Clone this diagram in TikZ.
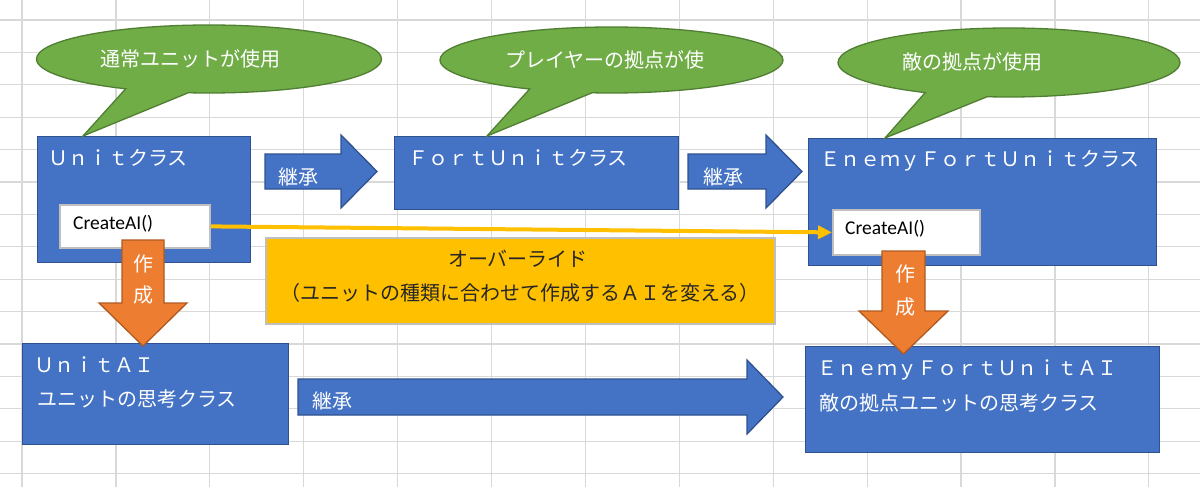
\documentclass[tikz,border=0pt]{standalone}
\usepackage{fontspec}
\setmainfont{Noto Sans CJK JP}
\newfontfamily\calib{Carlito}
\usetikzlibrary{shapes.callouts,shapes.geometric,arrows.meta}
\definecolor{xblue}{HTML}{4472C4}
\definecolor{xbluedk}{HTML}{2F528F}
\definecolor{xgreen}{HTML}{70AD47}
\definecolor{xgreendk}{HTML}{507E32}
\definecolor{xorange}{HTML}{ED7D31}
\definecolor{xorangedk}{HTML}{AE5A21}
\definecolor{xyellow}{HTML}{FFC000}
\definecolor{xgrid}{HTML}{D9D9D9}
\definecolor{xgray}{HTML}{BFBFBF}
\definecolor{xtext}{HTML}{262626}
\begin{document}
\begin{tikzpicture}[x=1pt,y=-1pt,
 gridline/.style={draw=xgrid,line width=1.2pt},
 bluebox/.style={rectangle,draw=xbluedk,fill=xblue,line width=1.3pt,anchor=north west,inner sep=0pt},
 whitebox/.style={rectangle,draw=xgray,fill=white,line width=1.8pt,anchor=north west,inner sep=0pt},
 ybox/.style={rectangle,draw=xgray,fill=xyellow,line width=1.5pt,anchor=north west,inner sep=0pt},
 bubble/.style={ellipse callout,draw=xgreendk,fill=xgreen,line width=1.3pt,callout pointer arc=22,inner sep=0pt},
 bluearrow/.style={draw=xbluedk,fill=xblue,line width=1.3pt,line join=miter},
 orangearrow/.style={draw=xorangedk,fill=xorange,line width=1.3pt},
 wtxt/.style={text=white,font=\fontsize{20}{24}\selectfont,inner sep=0pt,anchor=west},
 ktxt/.style={text=xtext,font=\fontsize{20}{24}\selectfont,inner sep=0pt},
 ctxt/.style={text=black,font=\calib\fontsize{19.5}{23}\selectfont,inner sep=0pt,anchor=west},
 yline/.style={draw=xyellow,line width=4pt,-{Triangle[length=14pt,width=13pt]}}
]
\useasboundingbox (0,0) rectangle (1200,487);
\fill[white] (0,0) rectangle (1200,487);
\foreach \i in {0,...,12} \draw[gridline] ({22+93.9*\i},0) -- ({22+93.9*\i},487);
\foreach \j in {0,...,14} \draw[gridline] (0,{20+32.4*\j}) -- (1200,{20+32.4*\j});

% class boxes
\node[bluebox,minimum width=213pt,minimum height=126pt] (unit) at (37,136) {};
\node[whitebox,minimum width=150pt,minimum height=43pt] (ca1) at (59,204) {};
\node[bluebox,minimum width=284pt,minimum height=73pt] (fort) at (394,136) {};
\node[bluebox,minimum width=348pt,minimum height=127pt] (efort) at (808,138) {};
\node[whitebox,minimum width=147pt,minimum height=45pt] (ca2) at (832,209) {};
\node[ybox,minimum width=509pt,minimum height=86pt] (ovr) at (265,237) {};
\node[bluebox,minimum width=266pt,minimum height=101pt] (uai) at (22,343) {};
\node[bluebox,minimum width=354pt,minimum height=106pt] (eai) at (805,346) {};

% callouts
\node[bubble,minimum width=345pt,minimum height=68pt,callout absolute pointer={(83,136)}] (b1) at (209,59) {};
\node[bubble,minimum width=343pt,minimum height=66pt,callout absolute pointer={(487,136)}] (b2) at (611.5,60) {};
\node[bubble,minimum width=342pt,minimum height=69pt,callout absolute pointer={(885,138)}] (b3) at (1009,62.5) {};
\node[wtxt] (t1) at (100,59) {通常ユニットが使用};
\node[wtxt] (t2) at (505,60) {プレイヤーの拠点が使};
\node[wtxt] (t3) at (902,62) {敵の拠点が使用};

% class texts
\node[wtxt] (tu) at (48,158) {Ｕｎｉｔクラス};
\node[wtxt] (tf) at (408,158) {ＦｏｒｔＵｎｉｔクラス};
\node[wtxt] (te) at (820,161) {ＥｎｅｍｙＦｏｒｔＵｎｉｔクラス};
\node[ctxt] (c1) at (73,224) {CreateAI()};
\node[ctxt] (c2) at (845,229) {CreateAI()};

% inheritance arrows
\draw[bluearrow] (265,154) -- (341,154) -- (341,135) -- (377,171.5) -- (341,208) -- (341,189) -- (265,189) -- cycle;
\node[wtxt] (k1) at (278,177) {継承};
\draw[bluearrow] (688,154) -- (766,154) -- (766,135) -- (802,171.5) -- (766,208) -- (766,189) -- (688,189) -- cycle;
\node[wtxt] (k2) at (703,177) {継承};
\draw[bluearrow] (298,379) -- (747,379) -- (747,360) -- (783,397) -- (747,434) -- (747,415) -- (298,415) -- cycle;
\node[wtxt] (k3) at (312,401) {継承};

% override
\node[ktxt] (o1) at (518,259) {オーバーライド};
\node[ktxt] (o2) at (520,293) {（ユニットの種類に合わせて作成するＡＩを変える）};
\draw[yline] (ca1.east) -- (ca2.west);

% AI texts
\node[wtxt] (ua1) at (34,365) {ＵｎｉｔＡＩ};
\node[wtxt] (ua2) at (37,399) {ユニットの思考クラス};
\node[wtxt] (ea1) at (817,370) {ＥｎｅｍｙＦｏｒｔＵｎｉｔＡＩ};
\node[wtxt] (ea2) at (819,403) {敵の拠点ユニットの思考クラス};

% create arrows
\draw[orangearrow] (122,240) -- (164,240) -- (164,303) -- (187,303) -- (143,346) -- (99,303) -- (122,303) -- cycle;
\node[wtxt,anchor=center] (s1) at (143,264) {作};
\node[wtxt,anchor=center] (s2) at (143,295) {成};
\draw[orangearrow] (882,251) -- (925,251) -- (925,311) -- (948,311) -- (903.5,354) -- (859,311) -- (882,311) -- cycle;
\node[wtxt,anchor=center] (s3) at (905,274) {作};
\node[wtxt,anchor=center] (s4) at (905,307) {成};
\end{tikzpicture}
\end{document}
